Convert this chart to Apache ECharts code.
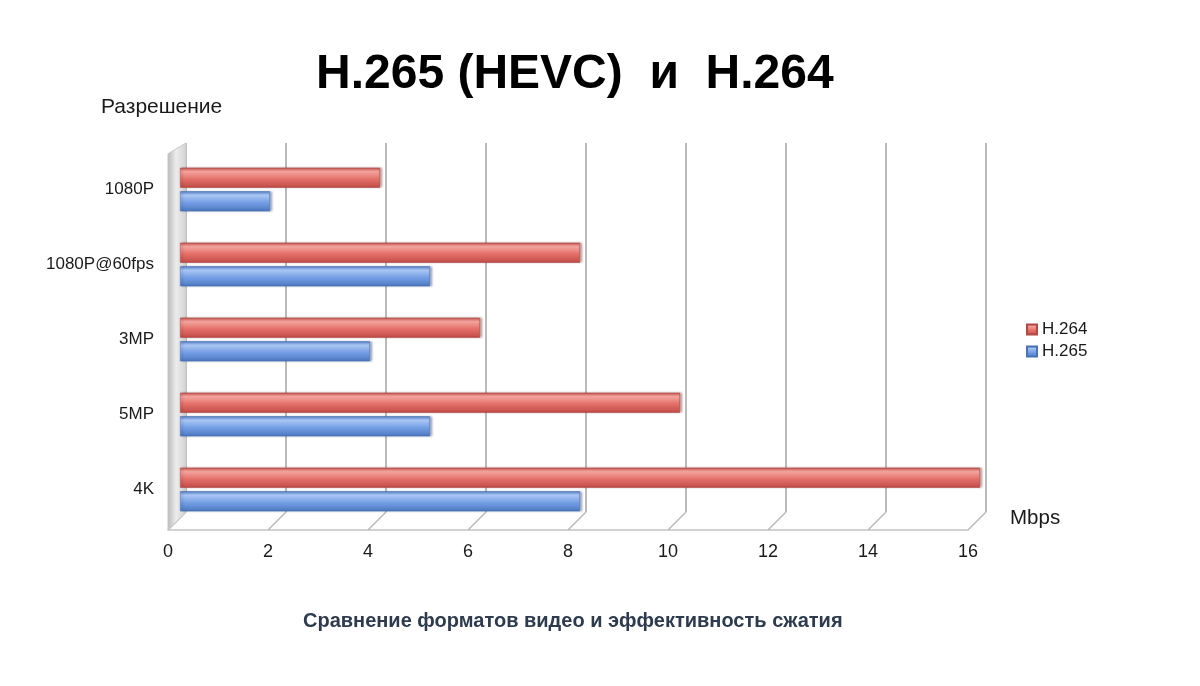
<!DOCTYPE html>
<html>
<head>
<meta charset="utf-8">
<script src="https://cdn.jsdelivr.net/npm/echarts@6/dist/echarts.min.js"></script>
<style>
  html, body { margin: 0; padding: 0; background: #ffffff; }
  #chart { width: 1200px; height: 686px; }
</style>
</head>
<body>
<div id="chart"></div>
<script>
// Resolutions (top to bottom) and bitrates in Mbps
const categories = ['1080P', '1080P@60fps', '3MP', '5MP', '4K'];
const h264 = [4, 8, 6, 10, 16];
const h265 = [1.8, 5, 3.8, 5, 8];
const xTicks = [0, 2, 4, 6, 8, 10, 12, 14, 16];

const FONT = '"Liberation Sans", Arial, sans-serif';
const DEPTH = 18; // pseudo-3D depth of the floor, px

const chart = echarts.init(document.getElementById('chart'));

function barGradient(top, light, mid, bottom) {
  return new echarts.graphic.LinearGradient(0, 0, 0, 1, [
    { offset: 0, color: top },
    { offset: 0.2, color: light },
    { offset: 0.55, color: mid },
    { offset: 1, color: bottom }
  ]);
}

const option = {
  backgroundColor: '#ffffff',
  animation: false,
  textStyle: { fontFamily: FONT },
  title: [
    {
      text: 'H.265 (HEVC)  и  H.264',
      left: 316, top: 51,
      textStyle: { fontFamily: FONT, fontSize: 48, fontWeight: 'bold', color: '#000' },
      padding: 0
    },
    {
      text: 'Разрешение',
      left: 101, top: 97,
      textStyle: { fontFamily: FONT, fontSize: 21, fontWeight: 'normal', color: '#1a1a1a' },
      padding: 0
    },
    {
      text: 'Mbps',
      left: 1010, top: 508,
      textStyle: { fontFamily: FONT, fontSize: 20.5, fontWeight: 'normal', color: '#1a1a1a' },
      padding: 0
    },
    {
      text: 'Сравнение форматов видео и эффективность сжатия',
      left: 303, top: 611,
      textStyle: { fontFamily: FONT, fontSize: 20, fontWeight: 'bold', color: '#2e3b4e' },
      padding: 0
    }
  ],
  legend: {
    orient: 'vertical',
    left: 1021, top: 316,
    itemWidth: 10, itemHeight: 10, itemGap: 5,
    icon: 'rect',
    textStyle: { fontFamily: FONT, fontSize: 17, color: '#1a1a1a' },
    data: ['H.264', 'H.265']
  },
  grid: [
    // back wall: gridlines
    { left: 186, top: 143, width: 800, height: 369 },
    // front floor edge and tick labels
    { left: 168, top: 143, width: 800, height: 387 },
    // bars
    { left: 180, top: 152, width: 800, height: 375 }
  ],
  xAxis: [
    {
      gridIndex: 0, type: 'value', min: 0, max: 16, interval: 2,
      axisLine: { show: false }, axisTick: { show: false }, axisLabel: { show: false },
      splitLine: { show: true, lineStyle: { color: '#a9a9a9', width: 1.6 } }
    },
    {
      gridIndex: 1, type: 'value', min: 0, max: 16, interval: 2,
      axisLine: { show: true, lineStyle: { color: '#c4c4c4', width: 1.5 } },
      axisTick: { show: false },
      splitLine: { show: false },
      axisLabel: { fontFamily: FONT, fontSize: 18, color: '#1a1a1a', margin: 13 }
    },
    {
      gridIndex: 2, type: 'value', min: 0, max: 16, interval: 2, show: false,
      splitLine: { show: false }
    }
  ],
  yAxis: [
    { gridIndex: 0, type: 'value', show: false, splitLine: { show: false } },
    { gridIndex: 1, type: 'value', min: 0, max: 1, show: false, splitLine: { show: false } },
    {
      gridIndex: 2, type: 'category', data: categories, inverse: true,
      axisLine: { show: false }, axisTick: { show: false },
      axisLabel: { fontFamily: FONT, fontSize: 17, color: '#1a1a1a', margin: 26 }
    }
  ],
  series: [
    {
      // floor: slanted lines joining the back gridlines to the front tick positions
      type: 'custom',
      xAxisIndex: 1, yAxisIndex: 1,
      silent: true,
      data: xTicks.map(v => [v, 0]),
      renderItem: function (params, api) {
        const p = api.coord([api.value(0), 0]);
        return {
          type: 'line',
          shape: { x1: p[0], y1: p[1], x2: p[0] + DEPTH, y2: p[1] - DEPTH },
          style: { stroke: '#b8b8b8', lineWidth: 1.5 }
        };
      },
      z: 1
    },
    {
      // left wall
      type: 'custom',
      xAxisIndex: 1, yAxisIndex: 1,
      silent: true,
      data: [[0, 0]],
      renderItem: function (params, api) {
        const b = api.coord([0, 0]);
        const t = api.coord([0, 1]);
        return {
          type: 'polygon',
          shape: { points: [[b[0], t[1] + DEPTH * 0.6], [b[0] + DEPTH, t[1]], [b[0] + DEPTH, b[1] - DEPTH], [b[0], b[1]]] },
          style: {
            fill: new echarts.graphic.LinearGradient(0, 0, 1, 0, [
              { offset: 0, color: '#b9b9b9' },
              { offset: 0.45, color: '#ececec' },
              { offset: 1, color: '#d2d2d2' }
            ]),
            stroke: '#c8c8c8', lineWidth: 1
          }
        };
      },
      z: 2
    },
    {
      name: 'H.264',
      type: 'bar',
      xAxisIndex: 2, yAxisIndex: 2,
      data: h264,
      barWidth: 20,
      barGap: '18%',
      itemStyle: {
        color: barGradient('#c85a56', '#f4a49e', '#e5716b', '#c24c48'),
        borderColor: '#b04844', borderWidth: 0.6,
        shadowColor: 'rgba(90,20,20,0.35)', shadowOffsetX: 2, shadowOffsetY: 0, shadowBlur: 2
      },
      z: 5
    },
    {
      name: 'H.265',
      type: 'bar',
      xAxisIndex: 2, yAxisIndex: 2,
      data: h265,
      barWidth: 20,
      itemStyle: {
        color: barGradient('#5b85cc', '#aac6f3', '#76a0e6', '#4d79c2'),
        borderColor: '#4a72b6', borderWidth: 0.6,
        shadowColor: 'rgba(20,40,90,0.35)', shadowOffsetX: 2, shadowOffsetY: 0, shadowBlur: 2
      },
      z: 5
    }
  ],
  color: ['#e26d69', '#6e9de6']
};

chart.setOption(option);
</script>
</body>
</html>
